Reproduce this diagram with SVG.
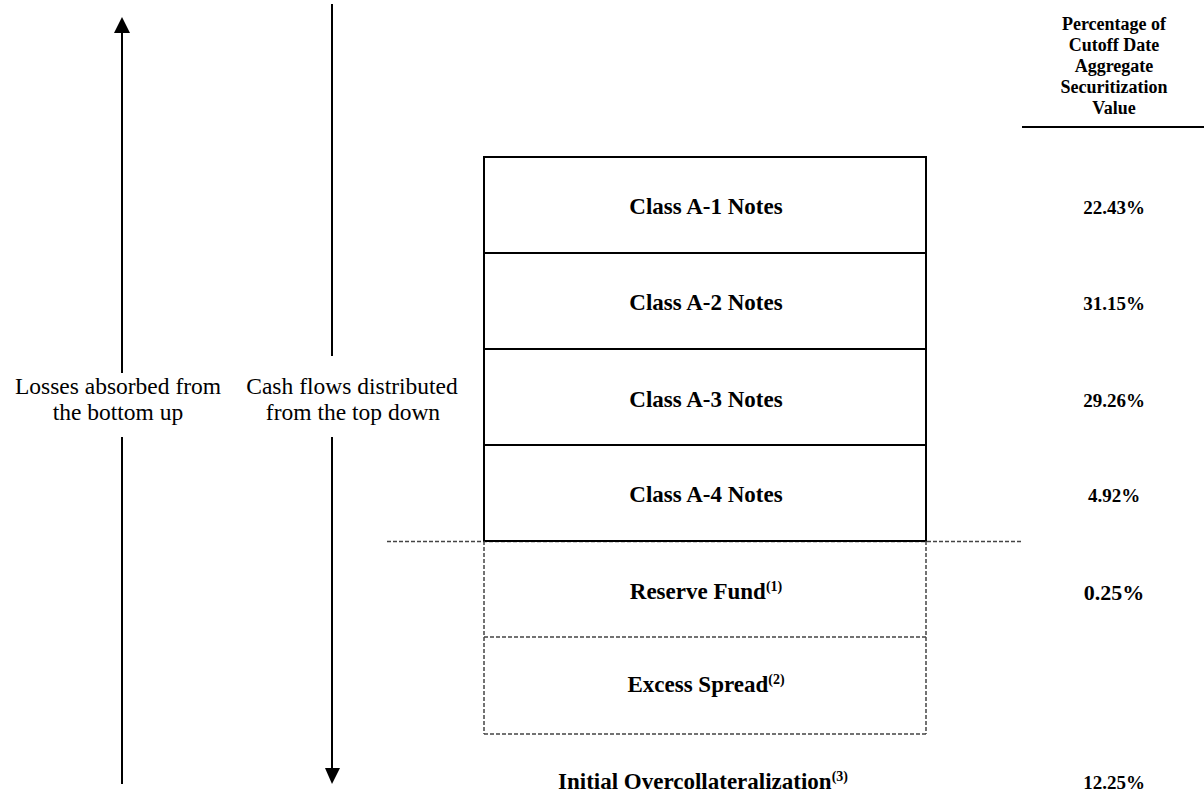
<svg xmlns="http://www.w3.org/2000/svg" width="1204" height="797" viewBox="0 0 1204 797">
<style>
.lbl{font-family:"Liberation Serif","Times New Roman",serif;font-size:23.5px;fill:#000;text-anchor:middle}
.b{font-family:"Liberation Serif","Times New Roman",serif;font-size:23px;font-weight:bold;fill:#000;text-anchor:middle}
.h{font-family:"Liberation Serif","Times New Roman",serif;font-size:18px;font-weight:bold;fill:#000;text-anchor:middle}
.p{font-family:"Liberation Serif","Times New Roman",serif;font-size:19px;font-weight:bold;fill:#000;text-anchor:middle}
.sup{font-size:14px}
.solid{fill:none;stroke:#000;stroke-width:2}
.dash{fill:none;stroke:#444;stroke-width:1.5;stroke-dasharray:4 2}
.arr{stroke:#000;stroke-width:2;fill:none}
</style>
<g id="connectors">
<line class="arr" x1="122" y1="373" x2="122" y2="32"/>
<path d="M114,33 L122,17 L130,33 z" fill="#000"/>
<line class="arr" x1="122" y1="437" x2="122" y2="784"/>
<line class="arr" x1="332" y1="4" x2="332" y2="356"/>
<line class="arr" x1="332" y1="437" x2="332" y2="769"/>
<path d="M325,768 L332,784 L340,768 z" fill="#000"/>
<line class="dash" x1="387" y1="541.5" x2="1022" y2="541.5"/>
<line x1="1022" y1="127" x2="1204" y2="127" stroke="#000" stroke-width="2"/>
</g>
<g id="left-label">
<text class="lbl" x="118" y="394">Losses absorbed from</text>
<text class="lbl" x="118" y="420">the bottom up</text>
</g>
<g id="right-label">
<text class="lbl" x="352" y="394">Cash flows distributed</text>
<text class="lbl" x="353" y="420">from the top down</text>
</g>
<g id="header">
<text class="h" x="1114" y="30">Percentage of</text>
<text class="h" x="1114" y="51">Cutoff Date</text>
<text class="h" x="1114" y="72">Aggregate</text>
<text class="h" x="1114" y="93">Securitization</text>
<text class="h" x="1114" y="114">Value</text>
</g>
<g id="a1">
<rect class="solid" x="484" y="157" width="442" height="96"/>
<text class="b" x="706" y="214">Class A-1 Notes</text>
<text class="p" x="1114" y="214">22.43%</text>
</g>
<g id="a2">
<rect class="solid" x="484" y="253" width="442" height="96"/>
<text class="b" x="706" y="310">Class A-2 Notes</text>
<text class="p" x="1114" y="310">31.15%</text>
</g>
<g id="a3">
<rect class="solid" x="484" y="349" width="442" height="96"/>
<text class="b" x="706" y="407">Class A-3 Notes</text>
<text class="p" x="1114" y="407">29.26%</text>
</g>
<g id="a4">
<rect class="solid" x="484" y="445" width="442" height="96"/>
<text class="b" x="706" y="502">Class A-4 Notes</text>
<text class="p" x="1114" y="502">4.92%</text>
</g>
<g id="reserve">
<line class="dash" x1="484" y1="541" x2="484" y2="637"/>
<line class="dash" x1="926" y1="541" x2="926" y2="637"/>
<line class="dash" x1="484" y1="637" x2="926" y2="637"/>
<text class="b" x="706" y="599">Reserve Fund<tspan class="sup" dy="-8">(1)</tspan></text>
<text class="p" x="1114" y="600" style="font-size:22px">0.25%</text>
</g>
<g id="excess">
<line class="dash" x1="484" y1="637" x2="484" y2="734"/>
<line class="dash" x1="926" y1="637" x2="926" y2="734"/>
<line class="dash" x1="484" y1="734" x2="926" y2="734"/>
<text class="b" x="706" y="692">Excess Spread<tspan class="sup" dy="-8">(2)</tspan></text>
</g>
<g id="oc">
<text class="b" x="703" y="789">Initial Overcollateralization<tspan class="sup" dy="-8">(3)</tspan></text>
<text class="p" x="1114" y="789">12.25%</text>
</g>
</svg>
